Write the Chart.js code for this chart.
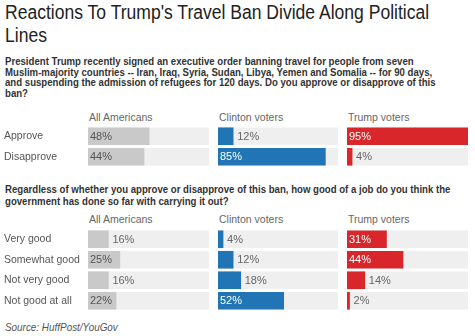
<!DOCTYPE html>
<html>
<head>
<meta charset="utf-8">
<script src="https://cdn.jsdelivr.net/npm/chart.js@4.4.0/dist/chart.umd.min.js"></script>
<style>
    body { margin: 0; background: #fff; font-family: "Liberation Sans", Arial, sans-serif; }
    #wrap { position: relative; width: 475px; height: 336px; overflow: hidden; }
    #wrap > * { position: absolute; }
    .squeeze { transform-origin: 0 0; white-space: nowrap; }
    .title { left: 5px; top: 1px; font-size: 20px; line-height: 22.5px; color: #222; transform: scaleX(0.877); }
    .q { left: 5px; font-size: 11px; font-weight: bold; line-height: 10.7px; color: #333; transform: scaleX(0.875); }
    .hdr { font-size: 10.5px; line-height: 13px; color: #666; white-space: nowrap; }
    .source { left: 5px; top: 321px; font-size: 11px; font-style: italic; color: #555; transform: scaleX(0.9); }
</style>
</head>
<body>
<div id="wrap">
    <div class="title squeeze">Reactions To Trump's Travel Ban Divide Along Political<br>Lines</div>
    <div class="q squeeze" style="top:56px">President Trump recently signed an executive order banning travel for people from seven<br>Muslim-majority countries -- Iran, Iraq, Syria, Sudan, Libya, Yemen and Somalia -- for 90 days,<br>and suspending the admission of refugees for 120 days. Do you approve or disapprove of this<br>ban?</div>
    <div class="q squeeze" style="top:183px;line-height:12px">Regardless of whether you approve or disapprove of this ban, how good of a job do you think the<br>government has done so far with carrying it out?</div>
    <canvas id="approveAll" width="209" height="41" style="left:0;top:126px"></canvas>
    <canvas id="approveClinton" width="120" height="41" style="left:218px;top:126px"></canvas>
    <canvas id="approveTrump" width="121" height="41" style="left:347px;top:126px"></canvas>
    <canvas id="jobAll" width="209" height="82" style="left:0;top:229px"></canvas>
    <canvas id="jobClinton" width="120" height="82" style="left:218px;top:229px"></canvas>
    <canvas id="jobTrump" width="121" height="82" style="left:347px;top:229px"></canvas>
    <div class="source squeeze">Source: HuffPost/YouGov</div>
</div>
<script>
const groups = ['All Americans', 'Clinton voters', 'Trump voters'];
const groupColors = ['#c9c9c9', '#2175b4', '#d8262b'];

const approveCategories = ['Approve', 'Disapprove'];
const approveAll = [48, 44];
const approveClinton = [12, 85];
const approveTrump = [95, 4];

const jobCategories = ['Very good', 'Somewhat good', 'Not very good', 'Not good at all'];
const jobAll = [16, 25, 16, 22];
const jobClinton = [4, 12, 18, 52];
const jobTrump = [31, 44, 14, 2];

const scaleMax = 95;

// column headers
const wrap = document.getElementById('wrap');
const headerLefts = [89, 219, 348];
[111, 213].forEach(top => {
    groups.forEach((g, i) => {
        const d = document.createElement('div');
        d.className = 'hdr';
        d.style.left = headerLefts[i] + 'px';
        d.style.top = top + 'px';
        d.textContent = g;
        wrap.appendChild(d);
    });
});

const valueLabels = {
    id: 'valueLabels',
    afterDatasetsDraw(chart) {
        const ctx = chart.ctx;
        const meta = chart.getDatasetMeta(1);
        const ds = chart.data.datasets[1];
        ctx.save();
        ctx.font = '11px "Liberation Sans", Arial, sans-serif';
        ctx.textBaseline = 'middle';
        ctx.textAlign = 'left';
        meta.data.forEach((bar, i) => {
            const w = bar.x - bar.base;
            const txt = ds.data[i] + '%';
            if (w > 26) {
                ctx.fillStyle = ds.labelInside;
                ctx.fillText(txt, bar.base + 2, bar.y + 0.5);
            } else {
                ctx.fillStyle = '#666';
                ctx.fillText(txt, bar.x + 4, bar.y + 0.5);
            }
        });
        ctx.restore();
    }
};

function makeChart(id, cats, values, groupIndex, withLabels) {
    const color = groupColors[groupIndex];
    const yAxis = {
        display: withLabels,
        grid: { display: false },
        border: { display: false },
        ticks: {
            crossAlign: 'far',
            color: '#555',
            padding: 0,
            font: { family: '"Liberation Sans", Arial, sans-serif', size: 10.5 }
        }
    };
    if (withLabels) {
        // fixed label column, no extra top/bottom padding from the tick labels
        yAxis.afterFit = scale => {
            scale.width = 84;
            scale.paddingTop = 0;
            scale.paddingBottom = 0;
        };
    }
    return new Chart(document.getElementById(id), {
        type: 'bar',
        data: {
            labels: cats,
            datasets: [{
                data: cats.map(() => scaleMax),
                backgroundColor: '#efefef',
                grouped: false,
                order: 2,
                barThickness: 17
            }, {
                data: values,
                backgroundColor: color,
                labelInside: groupIndex === 0 ? '#555' : '#fff',
                grouped: false,
                order: 1,
                barThickness: 17
            }]
        },
        options: {
            indexAxis: 'y',
            responsive: false,
            animation: false,
            devicePixelRatio: 1,
            layout: { padding: { left: withLabels ? 4 : 0, right: 0, top: 0, bottom: 0 } },
            plugins: { legend: { display: false }, tooltip: { enabled: false } },
            scales: {
                x: { display: false, min: 0, max: scaleMax },
                y: yAxis
            }
        },
        plugins: [valueLabels]
    });
}

makeChart('approveAll', approveCategories, approveAll, 0, true);
makeChart('approveClinton', approveCategories, approveClinton, 1, false);
makeChart('approveTrump', approveCategories, approveTrump, 2, false);
makeChart('jobAll', jobCategories, jobAll, 0, true);
makeChart('jobClinton', jobCategories, jobClinton, 1, false);
makeChart('jobTrump', jobCategories, jobTrump, 2, false);
</script>
</body>
</html>
